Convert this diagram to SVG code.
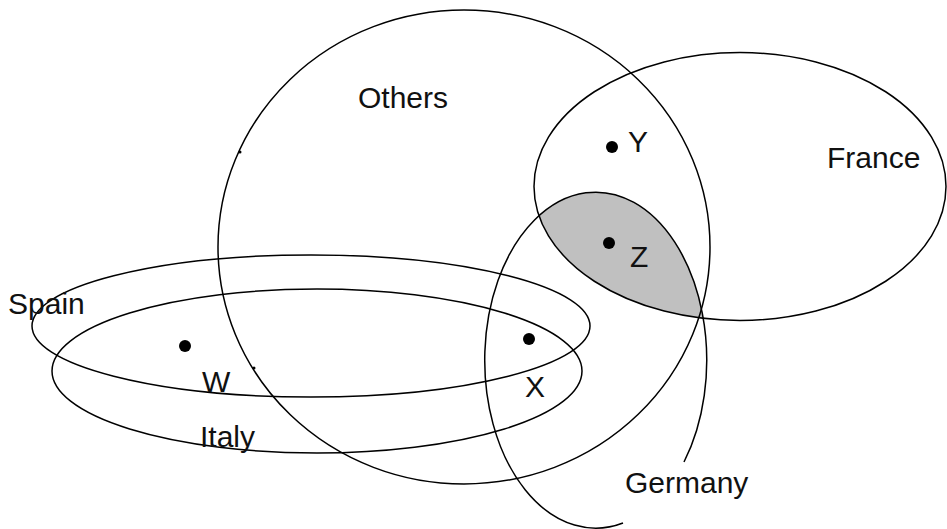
<svg xmlns="http://www.w3.org/2000/svg" width="947" height="529" viewBox="0 0 947 529">
<style>
.set{fill:none;stroke:#000;stroke-width:1.5}
.lbl{font-family:"Liberation Sans",Arial,sans-serif;font-size:30px;fill:#111}
.dot{fill:#000}
</style>
<defs>
<clipPath id="franceClip"><ellipse cx="740" cy="186.5" rx="206" ry="134"/></clipPath>
</defs>
<rect width="947" height="529" fill="#fff"/>
<g id="shaded-region">
<ellipse cx="596" cy="360" rx="111" ry="168" fill="#c0c0c0" clip-path="url(#franceClip)"/>
</g>
<g id="others">
<ellipse class="set" cx="464" cy="247" rx="246" ry="237"/>
<circle class="dot" cx="240" cy="152" r="1.5"/>
<circle class="dot" cx="254" cy="368" r="1.5"/>
<text class="lbl" x="358" y="108">Others</text>
</g>
<g id="france">
<ellipse class="set" cx="740" cy="186.5" rx="206" ry="134"/>
<text class="lbl" x="827" y="168">France</text>
</g>
<g id="germany">
<path class="set" d="M 684 462 A 111 168 0 1 0 623 523"/>
<text class="lbl" x="625" y="493">Germany</text>
</g>
<g id="spain">
<ellipse class="set" cx="311" cy="326" rx="279" ry="71"/>
<text class="lbl" x="8" y="314">Spain</text>
</g>
<g id="italy">
<ellipse class="set" cx="317" cy="371" rx="265" ry="82"/>
<text class="lbl" x="200" y="447">Italy</text>
</g>
<g id="point-w">
<circle class="dot" cx="185" cy="346" r="6"/>
<text class="lbl" x="202" y="392">W</text>
</g>
<g id="point-x">
<circle class="dot" cx="529" cy="339" r="6"/>
<text class="lbl" x="525" y="397">X</text>
</g>
<g id="point-y">
<circle class="dot" cx="612" cy="147" r="6"/>
<text class="lbl" x="628" y="152">Y</text>
</g>
<g id="point-z">
<circle class="dot" cx="609" cy="243" r="6"/>
<text class="lbl" x="630" y="267">Z</text>
</g>
<g id="connectors"></g>
</svg>
